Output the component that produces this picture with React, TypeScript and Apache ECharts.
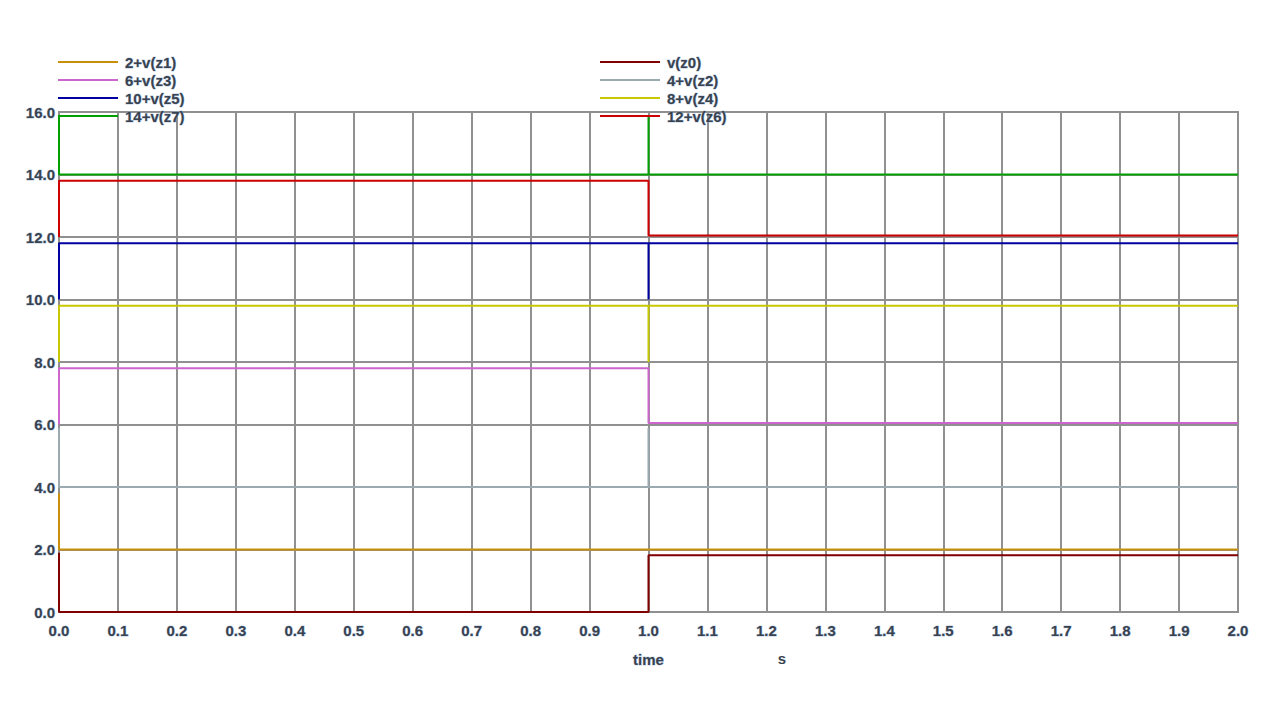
import React, { useEffect, useRef } from "react";
import * as echarts from "echarts";

// Signal names (legend order: left column then right column)
const leftNames = ["2+v(z1)", "6+v(z3)", "10+v(z5)", "14+v(z7)"];
const rightNames = ["v(z0)", "4+v(z2)", "8+v(z4)", "12+v(z6)"];

// Step waveforms: time points and values (s, V)
const z0T = [0, 0, 1, 1, 2];
const z0V = [1.9, 0, 0, 1.82, 1.82];
const z1T = [0, 0, 2];
const z1V = [3.8, 2, 2];
const z2T = [0, 0, 1, 1, 1, 2];
const z2V = [5.9, 4, 4, 5.9, 4, 4];
const z3T = [0, 0, 1, 1, 2];
const z3V = [6, 7.8, 7.8, 6.05, 6.05];
const z4T = [0, 0, 1, 1, 1, 2];
const z4V = [8, 9.8, 9.8, 8, 9.8, 9.8];
const z5T = [0, 0, 1, 1, 1, 2];
const z5V = [10, 11.8, 11.8, 10, 11.8, 11.8];
const z6T = [0, 0, 1, 1, 2];
const z6V = [12, 13.8, 13.8, 12.05, 12.05];
const z7T = [0, 0, 1, 1, 1, 2];
const z7V = [15.85, 14, 14, 15.85, 14, 14];

const xTicks = { min: 0, max: 2, interval: 0.1 };
const yTicks = { min: 0, max: 16, interval: 2 };

const signals = [
  { name: "v(z0)", t: z0T, v: z0V, color: "#800000" },
  { name: "2+v(z1)", t: z1T, v: z1V, color: "#c8900a" },
  { name: "4+v(z2)", t: z2T, v: z2V, color: "#9aaab0" },
  { name: "6+v(z3)", t: z3T, v: z3V, color: "#cc66cc" },
  { name: "8+v(z4)", t: z4T, v: z4V, color: "#c8c800" },
  { name: "10+v(z5)", t: z5T, v: z5V, color: "#0000a0" },
  { name: "12+v(z6)", t: z6T, v: z6V, color: "#cc0000" },
  { name: "14+v(z7)", t: z7T, v: z7V, color: "#00a000" },
];

const FONT = "Liberation Sans, Arial, sans-serif";
const textStyle = {
  fontFamily: FONT,
  fontSize: 15,
  fontWeight: "bold" as const,
  color: "#39424e",
  textBorderColor: "rgba(140,175,215,0.6)",
  textBorderWidth: 1,
};

export default function App() {
  const ref = useRef<HTMLDivElement>(null);
  useEffect(() => {
    if (!ref.current) return;
    const chart = echarts.init(ref.current, null, { renderer: "svg" });
    const legendCommon = {
      orient: "vertical" as const,
      top: 53,
      itemWidth: 60,
      itemHeight: 2,
      itemGap: 0,
      icon: "rect",
      padding: 0,
      textStyle: { ...textStyle, lineHeight: 18, padding: [0, 0, 0, 2] },
      selectedMode: false,
    };
    chart.setOption({
      animation: false,
      backgroundColor: "#ffffff",
      legend: [
        { ...legendCommon, left: 58, data: leftNames },
        { ...legendCommon, left: 600, data: rightNames },
      ],
      grid: {
        left: 59,
        right: 42,
        top: 112,
        bottom: 108,
        show: true,
        borderColor: "#909090",
        borderWidth: 2,
        containLabel: false,
      },
      xAxis: {
        type: "value",
        min: xTicks.min,
        max: xTicks.max,
        interval: xTicks.interval,
        name: "time",
        nameLocation: "middle",
        nameGap: 40,
        nameTextStyle: { ...textStyle },
        axisLine: { show: true, lineStyle: { color: "#909090", width: 2 } },
        axisTick: { show: false },
        axisLabel: {
          ...textStyle,
          margin: 11,
          formatter: (v: number) => v.toFixed(1),
        },
        splitLine: { show: true, lineStyle: { color: "#909090", width: 2 } },
      },
      yAxis: {
        type: "value",
        min: yTicks.min,
        max: yTicks.max,
        interval: yTicks.interval,
        axisLine: { show: true, lineStyle: { color: "#909090", width: 2 } },
        axisTick: { show: false },
        axisLabel: {
          ...textStyle,
          margin: 4,
          formatter: (v: number) => v.toFixed(1),
        },
        splitLine: { show: true, lineStyle: { color: "#909090", width: 2 } },
      },
      graphic: [
        {
          type: "text",
          x: 782,
          y: 658,
          style: {
            text: "s",
            fill: textStyle.color,
            font: `bold 15px ${FONT}`,
            align: "center",
            verticalAlign: "middle",
          },
        },
      ],
      series: signals.map((s) => ({
        name: s.name,
        type: "line",
        data: s.t.map((t, i) => [t, s.v[i]]),
        showSymbol: false,
        symbol: "none",
        color: s.color,
        lineStyle: { color: s.color, width: 2 },
        emphasis: { disabled: true },
      })),
    });
    return () => chart.dispose();
  }, []);
  return <div ref={ref} style={{ width: 1280, height: 720, position: "absolute", left: 0, top: 0 }} />;
}
